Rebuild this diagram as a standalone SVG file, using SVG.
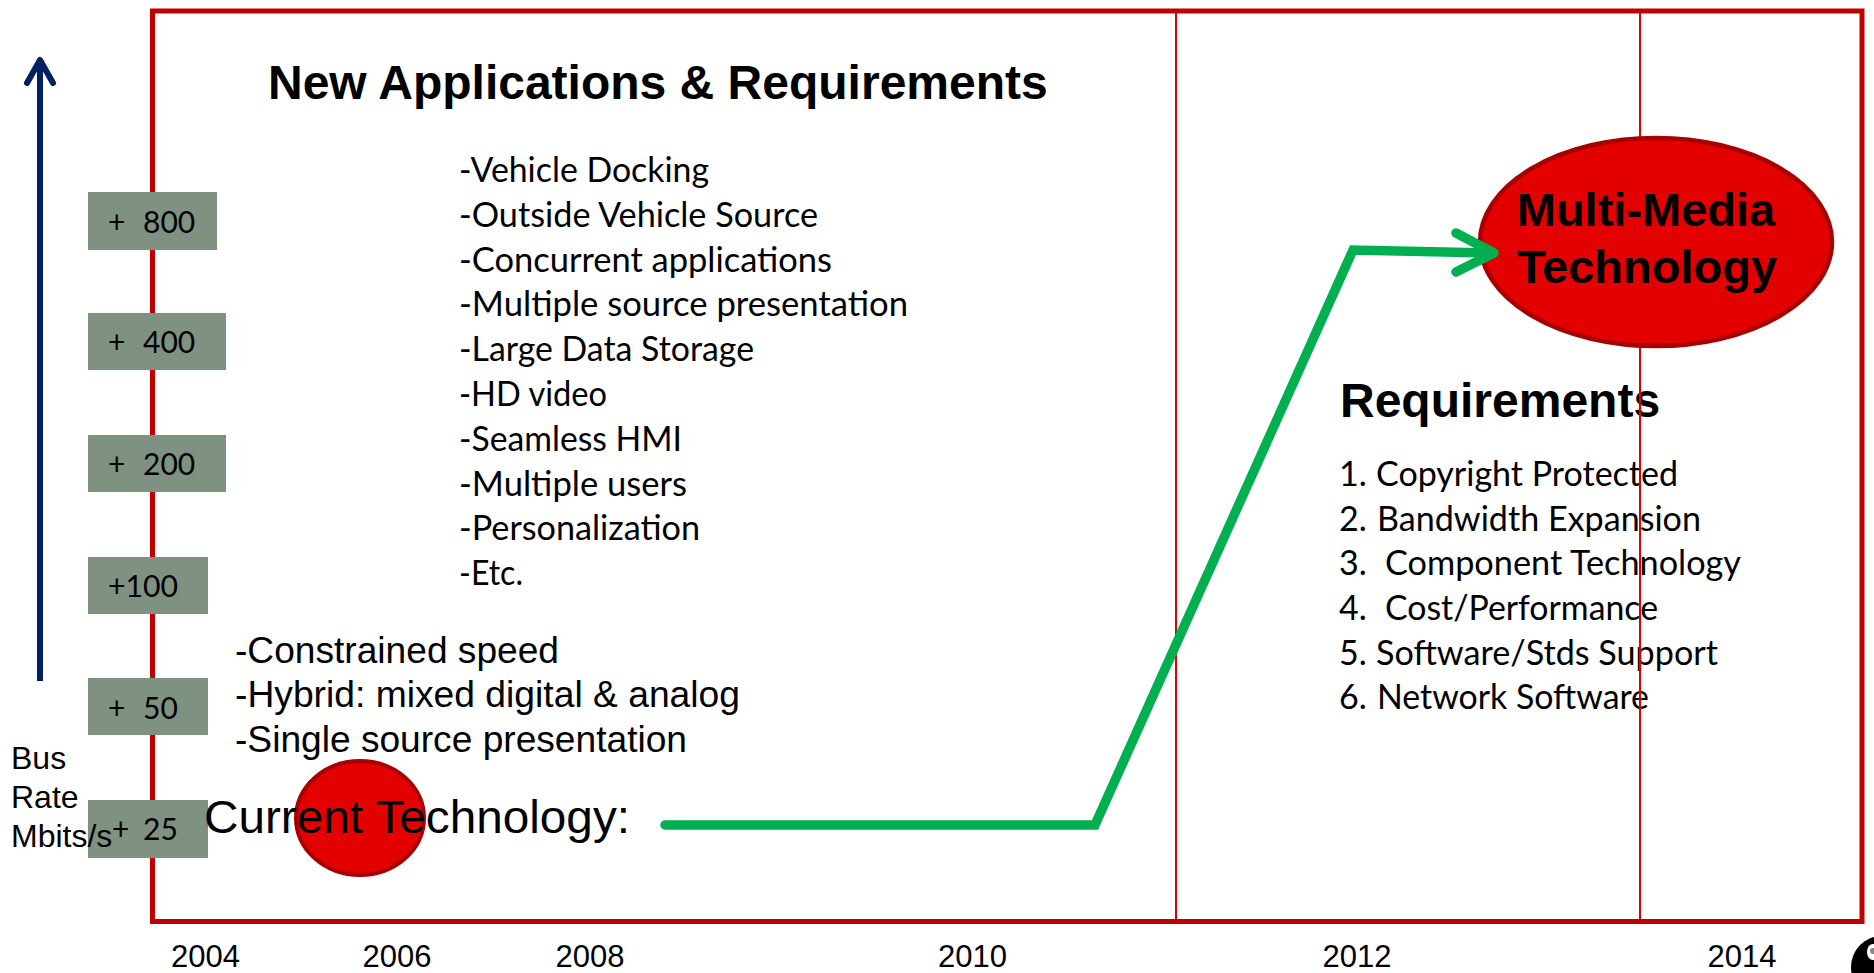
<svg xmlns="http://www.w3.org/2000/svg" width="1874" height="973" viewBox="0 0 1874 973">
<style>
.arial{font-family:"Liberation Sans",Arial,sans-serif;fill:#000}
.bold{font-weight:bold}
.cal{font-family:Lato,"Open Sans",sans-serif;font-size:34px;fill:#000}
.boxt{font-family:Lato,"Open Sans",sans-serif;font-size:30px;fill:#000}
.box{fill:#7F9282}
.year{font-family:"Liberation Sans",Arial,sans-serif;font-size:31px;text-anchor:middle;fill:#000}
.redfill{fill:#E30000;stroke:#A80000}
.grid{stroke:#E00000;stroke-width:2;fill:none}
.conn{fill:none;stroke:#00B050;stroke-width:9.5;stroke-linecap:round}
</style>
<rect width="1874" height="973" fill="#fff"/>

<g id="frame">
<rect x="152.5" y="11" width="1709.5" height="910.5" fill="none" stroke="#C00000" stroke-width="5"/>
</g>

<g id="axis">
<path d="M40,681 L40,61" fill="none" stroke="#002060" stroke-width="6"/>
<path d="M27,83 L40,60 L53,83" fill="none" stroke="#002060" stroke-width="6" stroke-linecap="round" stroke-linejoin="round"/>
</g>

<g id="title">
<text class="arial bold" x="268" y="99" font-size="48">New Applications &amp; Requirements</text>
</g>

<g id="applications">
<text class="cal" x="459" y="182" textLength="250" lengthAdjust="spacingAndGlyphs">-Vehicle Docking</text>
<text class="cal" x="459" y="227" textLength="359" lengthAdjust="spacingAndGlyphs">-Outside Vehicle Source</text>
<text class="cal" x="459" y="272" textLength="373" lengthAdjust="spacingAndGlyphs">-Concurrent applications</text>
<text class="cal" x="459" y="316" textLength="449" lengthAdjust="spacingAndGlyphs">-Multiple source presentation</text>
<text class="cal" x="459" y="361" textLength="295" lengthAdjust="spacingAndGlyphs">-Large Data Storage</text>
<text class="cal" x="459" y="406" textLength="148" lengthAdjust="spacingAndGlyphs">-HD video</text>
<text class="cal" x="459" y="451" textLength="223" lengthAdjust="spacingAndGlyphs">-Seamless HMI</text>
<text class="cal" x="459" y="496" textLength="228" lengthAdjust="spacingAndGlyphs">-Multiple users</text>
<text class="cal" x="459" y="540" textLength="241" lengthAdjust="spacingAndGlyphs">-Personalization</text>
<text class="cal" x="459" y="585" textLength="64" lengthAdjust="spacingAndGlyphs">-Etc.</text>
</g>

<g id="requirements">
<text class="arial bold" x="1340" y="417" font-size="48">Requirements</text>
<text class="cal" x="1339" y="486">1.</text>
<text class="cal" x="1376" y="486" textLength="302" lengthAdjust="spacingAndGlyphs">Copyright Protected</text>
<text class="cal" x="1339" y="531">2.</text>
<text class="cal" x="1377" y="531" textLength="324" lengthAdjust="spacingAndGlyphs">Bandwidth Expansion</text>
<text class="cal" x="1339" y="575">3.</text>
<text class="cal" x="1385" y="575" textLength="356" lengthAdjust="spacingAndGlyphs">Component Technology</text>
<text class="cal" x="1339" y="620">4.</text>
<text class="cal" x="1385" y="620" textLength="273" lengthAdjust="spacingAndGlyphs">Cost/Performance</text>
<text class="cal" x="1339" y="665">5.</text>
<text class="cal" x="1376" y="665" textLength="342" lengthAdjust="spacingAndGlyphs">Software/Stds Support</text>
<text class="cal" x="1339" y="709">6.</text>
<text class="cal" x="1377" y="709" textLength="272" lengthAdjust="spacingAndGlyphs">Network Software</text>
</g>

<g id="gridlines">
<line class="grid" x1="1176" y1="13" x2="1176" y2="919"/>
<line class="grid" x1="1640" y1="13" x2="1640" y2="919"/>
</g>

<g id="box-800">
<rect class="box" x="88" y="192" width="129" height="58"/>
<text class="boxt" x="108" y="233">+</text><text class="boxt" x="143" y="233">800</text>
</g>
<g id="box-400">
<rect class="box" x="88" y="313" width="138" height="57"/>
<text class="boxt" x="108" y="353">+</text><text class="boxt" x="143" y="353">400</text>
</g>
<g id="box-200">
<rect class="box" x="88" y="435" width="138" height="57"/>
<text class="boxt" x="108" y="475">+</text><text class="boxt" x="143" y="475">200</text>
</g>
<g id="box-100">
<rect class="box" x="88" y="557" width="120" height="57"/>
<text class="boxt" x="108" y="597" textLength="70" lengthAdjust="spacingAndGlyphs">+100</text>
</g>
<g id="box-50">
<rect class="box" x="88" y="678" width="120" height="57"/>
<text class="boxt" x="108" y="719">+</text><text class="boxt" x="143" y="719">50</text>
</g>
<g id="box-25">
<rect class="box" x="88" y="800" width="120" height="58"/>
<text class="boxt" x="112" y="840">+</text><text class="boxt" x="143" y="840">25</text>
</g>

<g id="axis-label">
<text class="arial" x="11" y="769" font-size="32">Bus</text>
<text class="arial" x="11" y="808" font-size="32">Rate</text>
<text class="arial" x="11" y="847" font-size="32">Mbits/s</text>
</g>

<g id="current-constraints">
<text class="arial" x="235" y="663" font-size="37" textLength="324" lengthAdjust="spacingAndGlyphs">-Constrained speed</text>
<text class="arial" x="235" y="707" font-size="37" textLength="505" lengthAdjust="spacingAndGlyphs">-Hybrid: mixed digital &amp; analog</text>
<text class="arial" x="235" y="752" font-size="37" textLength="452" lengthAdjust="spacingAndGlyphs">-Single source presentation</text>
</g>

<g id="current-technology">
<ellipse class="redfill" cx="360" cy="818" rx="64" ry="57" stroke-width="4"/>
<text class="arial" x="204" y="833" font-size="47" textLength="426" lengthAdjust="spacingAndGlyphs">Current Technology:</text>
</g>

<g id="multimedia-technology">
<ellipse class="redfill" cx="1656" cy="242" rx="176" ry="104" stroke-width="4.5"/>
<text class="arial bold" x="1646" y="226" font-size="47" text-anchor="middle">Multi-Media</text>
<text class="arial bold" x="1647" y="283" font-size="47" text-anchor="middle">Technology</text>
</g>

<g id="connectors">
<path class="conn" d="M665,825 L1095,825 L1353,250 L1490,253" stroke-linecap="butt" stroke-linejoin="miter"/>
<path class="conn" d="M1456,233 L1494,253 L1456,272" stroke-linejoin="round"/>
</g>

<g id="years">
<text class="year" x="205.5" y="967">2004</text>
<text class="year" x="397" y="967">2006</text>
<text class="year" x="590" y="967">2008</text>
<text class="year" x="972.5" y="967">2010</text>
<text class="year" x="1357" y="967">2012</text>
<text class="year" x="1742" y="967">2014</text>
</g>

<g id="corner-icon">
<circle cx="1882" cy="967" r="31" fill="#000"/>
<ellipse cx="1873" cy="952" rx="6" ry="8" fill="#fff"/>
<circle cx="1873" cy="951" r="3" fill="#888"/>
</g>
</svg>
